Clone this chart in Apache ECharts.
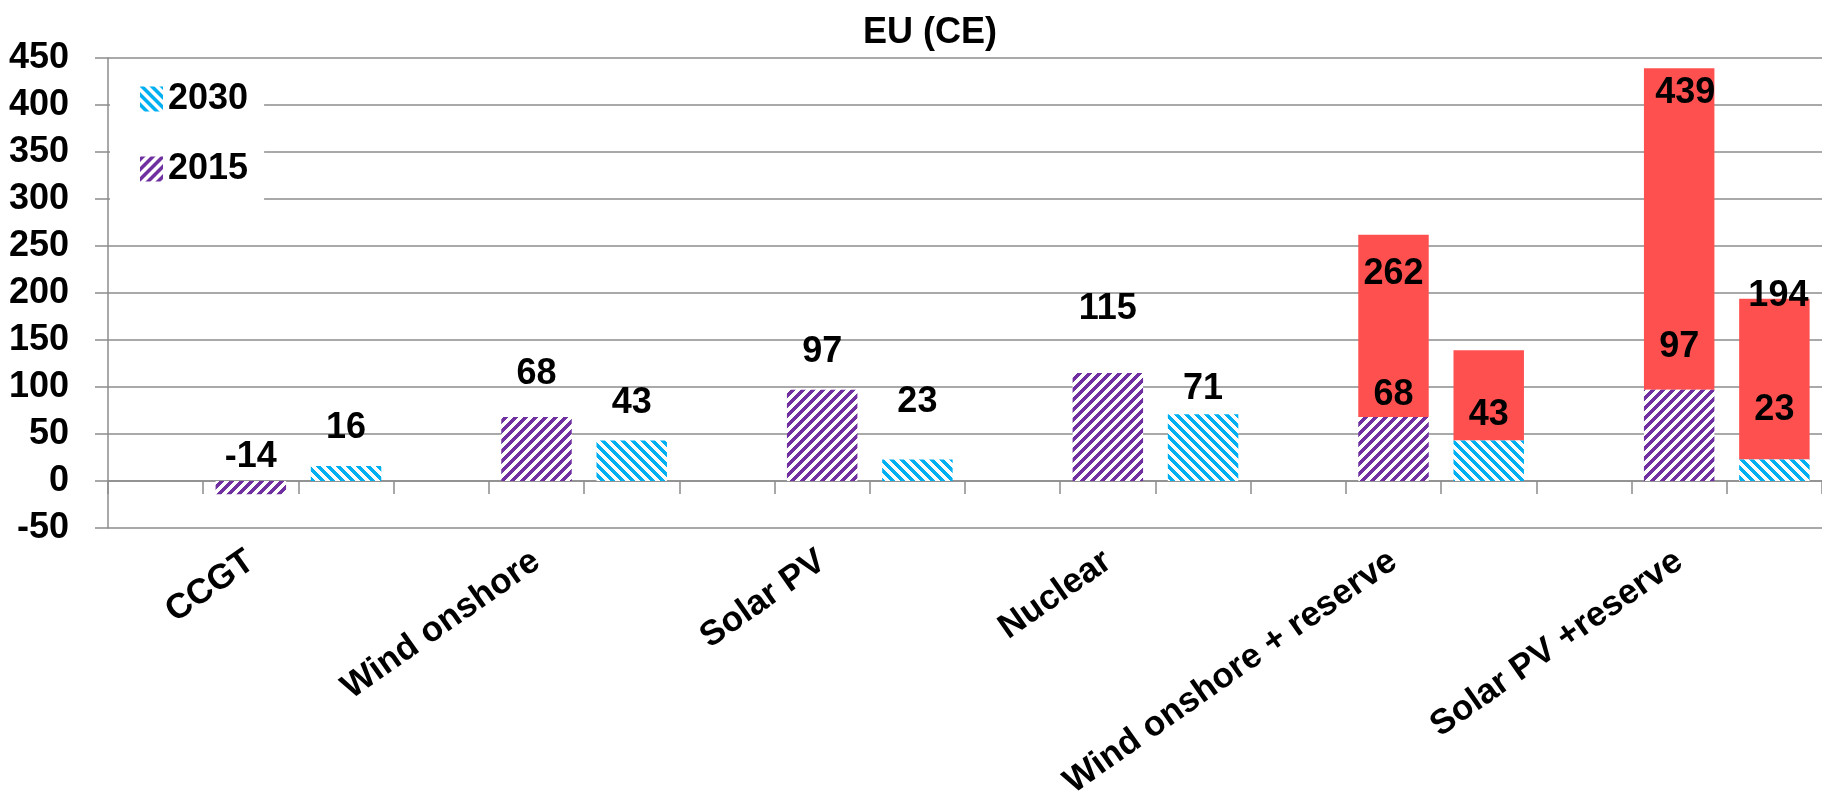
<!DOCTYPE html>
<html>
<head>
<meta charset="utf-8">
<script src="https://cdn.jsdelivr.net/npm/echarts@6/dist/echarts.min.js"></script>
<style>
html,body{margin:0;padding:0;background:#fff;}
#chart{width:1822px;height:803px;}
</style>
</head>
<body>
<div id="chart"></div>
<script>
// ---- data ----
const categories = ['CCGT', 'Wind onshore', 'Solar PV', 'Nuclear', 'Wind onshore + reserve', 'Solar PV +reserve'];
const values2015 = [-14, 68, 97, 115, 68, 97];
const values2030 = [16, 43, 23, 71, 43, 23];
const reserveTotal2015 = [null, null, null, null, 262, 439];
const reserveTotal2030 = [null, null, null, null, 139, 194];
const yMin = -50, yMax = 450, yStep = 50;
const legendNames = ['2030', '2015'];

// ---- label placement (style, px above bar top) ----
const lift2015 = [24, 43, 38, 64, 22, 43];
const lift2030 = [38, 38, 57, 25, 26, 49];

// ---- hatch patterns ----
function hatch(color, dir) {
  const P = 10, W = 5;
  const c = document.createElement('canvas');
  c.width = P; c.height = P;
  const ctx = c.getContext('2d');
  ctx.fillStyle = '#ffffff';
  ctx.fillRect(0, 0, P, P);
  ctx.fillStyle = color;
  for (let y = 0; y < P; y++) {
    for (let x = 0; x < P; x++) {
      const k = dir > 0 ? (x + y) % P : (((x - y) % P) + P) % P;
      if (k < W) ctx.fillRect(x, y, 1, 1);
    }
  }
  return { image: c, repeat: 'repeat' };
}
const purpleHatch = hatch('#7030A0', 1);
const cyanHatch = hatch('#00B0F0', -1);
const RED = '#FF5050';

// ---- build slot arrays: [empty, 2015, 2030] per category ----
const slotCats = [];
const s2015 = [], s2030 = [], r2015 = [], r2030 = [];
const FONT = 'Liberation Sans';
const labelBase = { show: true, color: '#000', fontFamily: FONT, fontWeight: 'bold', fontSize: 36 };
categories.forEach((c, i) => {
  slotCats.push('', c, '');
  // empty slot
  s2015.push(null); s2030.push(null); r2015.push(null); r2030.push(null);
  // 2015 slot
  s2015.push({ value: values2015[i], label: Object.assign({}, labelBase, { position: 'top', distance: lift2015[i] - 18 }) });
  s2030.push(null);
  if (reserveTotal2015[i] != null) {
    r2015.push({ value: reserveTotal2015[i] - values2015[i],
      label: Object.assign({}, labelBase, { position: 'insideTop', distance: i === 5 ? 7 : 21, offset: [i === 5 ? 6 : 0, 0] }) });
  } else r2015.push(null);
  r2030.push(null);
  // 2030 slot
  s2015.push(null);
  s2030.push({ value: values2030[i], label: Object.assign({}, labelBase, { position: 'top', distance: lift2030[i] - 18 }) });
  r2015.push(null);
  if (reserveTotal2030[i] != null) {
    const showIt = i === 5;
    r2030.push({ value: reserveTotal2030[i] - values2030[i],
      label: Object.assign({}, labelBase, { show: showIt, position: 'insideTop', distance: 0, offset: [4, -21] }) });
  } else r2030.push(null);
});

const totalFmt = arr => p => String(arr[Math.floor(p.dataIndex / 3)]);

const GRID_COLOR = '#8c8c8c';
const chart = echarts.init(document.getElementById('chart'), null, { renderer: 'canvas' });
chart.setOption({
  animation: false,
  backgroundColor: '#fff',
  title: {
    text: 'EU (CE)', left: 858, top: 10,
    textStyle: { fontFamily: FONT, fontWeight: 'bold', fontSize: 36, color: '#000' }
  },
  legend: {
    data: legendNames,
    orient: 'vertical',
    left: 110, top: 61,
    padding: [20, 16, 18, 30],
    backgroundColor: '#fff',
    itemWidth: 23, itemHeight: 25, itemGap: 34, itemTextGap: 20,
    icon: 'rect',
    textStyle: { fontFamily: FONT, fontWeight: 'bold', fontSize: 36, color: '#000' }
  },
  grid: { left: 108, right: 0, top: 58, bottom: 275, containLabel: false },
  xAxis: [
    {
      type: 'category', data: slotCats, position: 'bottom',
      axisLine: { show: false, onZero: false },
      axisTick: { show: false },
      axisLabel: { interval: 0, rotate: 35, margin: 30, color: '#000', fontFamily: FONT, fontWeight: 'bold', fontSize: 35 }
    },
    {
      type: 'category', data: slotCats, position: 'top',
      axisLine: { show: true, onZero: true, lineStyle: { color: GRID_COLOR, width: 1.5 } },
      axisTick: { show: true, inside: true, interval: 0, length: 13, lineStyle: { color: GRID_COLOR, width: 1.5 } },
      axisLabel: { show: false }
    }
  ],
  yAxis: {
    type: 'value', min: yMin, max: yMax, interval: yStep,
    axisLine: { show: true, lineStyle: { color: GRID_COLOR, width: 1.5 } },
    axisTick: { show: true, length: 13, lineStyle: { color: GRID_COLOR, width: 1.5 } },
    splitLine: { show: true, lineStyle: { color: GRID_COLOR, width: 1.5 } },
    axisLabel: { margin: 39, color: '#000', fontFamily: FONT, fontWeight: 'bold', fontSize: 36 }
  },
  series: [
    { name: '2015', type: 'bar', stack: 'all', xAxisIndex: 0, barWidth: '74%', z: 3,
      itemStyle: { color: purpleHatch }, data: s2015 },
    { name: 'reserve2015', type: 'bar', stack: 'all', xAxisIndex: 0, barWidth: '74%', z: 2,
      itemStyle: { color: RED }, label: { formatter: totalFmt(reserveTotal2015) }, data: r2015 },
    { name: '2030', type: 'bar', stack: 'all', xAxisIndex: 0, barWidth: '74%', z: 3,
      itemStyle: { color: cyanHatch }, data: s2030 },
    { name: 'reserve2030', type: 'bar', stack: 'all', xAxisIndex: 0, barWidth: '74%', z: 2,
      itemStyle: { color: RED }, label: { formatter: totalFmt(reserveTotal2030) }, data: r2030 }
  ]
});
</script>
</body>
</html>
